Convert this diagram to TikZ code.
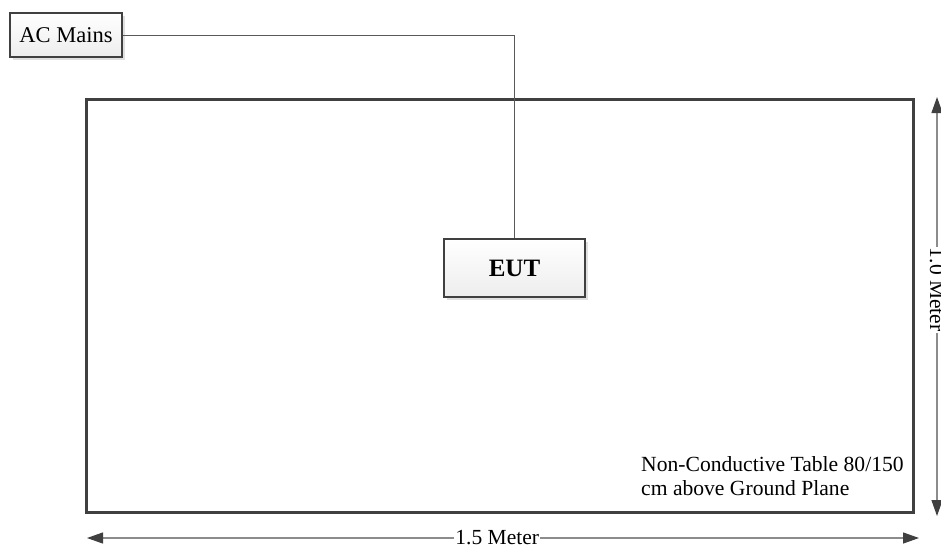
\documentclass[tikz,border=0pt]{standalone}
\usepackage{fontspec}
\setmainfont{Liberation Serif}
\usetikzlibrary{arrows.meta,positioning,shadows}
\definecolor{darkframe}{rgb}{0.25,0.25,0.25}
\definecolor{wiregray}{rgb}{0.35,0.35,0.35}
\definecolor{dimgray}{rgb}{0.55,0.55,0.55}
\tikzset{
  unit/.style={
    draw=darkframe,
    line width=1.6pt,
    top color=white,
    bottom color=black!7,
    drop shadow={shadow xshift=3pt,shadow yshift=-3pt,fill=black!12,opacity=1},
    align=center,
    inner sep=0pt
  },
  table/.style={
    draw=darkframe,
    line width=3pt,
    inner sep=0pt
  },
  wire/.style={
    wiregray,
    line width=1pt
  },
  dimarrow/.style={
    {Triangle[length=16pt,width=11pt,color=darkframe]}-{Triangle[length=16pt,width=11pt,color=darkframe]},
    dimgray,
    line width=1.2pt
  },
  dimlabel/.style={
    fill=white,
    text=black,
    inner xsep=1pt,
    inner ysep=2pt,
    font=\fontsize{21.5}{24}\selectfont
  }
}

\begin{document}
\begin{tikzpicture}[x=1pt,y=-1pt]
\clip (0,0) rectangle (941,552);
\fill[white] (0,0) rectangle (941,552);
\node[table,minimum width=827pt,minimum height=413pt] (desk) at (499.5,305.5) {};
\node[unit,minimum width=112pt,minimum height=44pt,font=\fontsize{22.5}{24}\selectfont] (mains) at (66,35) {AC Mains};
\node[unit,minimum width=141pt,minimum height=58pt,font=\fontsize{25}{28}\selectfont\bfseries] (eut) at (514.5,268) {EUT};
\node[anchor=west,align=left,inner sep=0pt,font=\fontsize{21.6}{24}\selectfont] (note) at (641,476) {Non-Conductive Table 80/150\\cm above Ground Plane};
\draw[wire] (mains.east) -| (eut.north);
% dimensions
\coordinate (bl) at (87,538);
\coordinate (br) at (919,538);
\coordinate (rt) at (937,97);
\coordinate (rb) at (937,516);
\draw[dimarrow] (bl) -- (br) node[dimlabel,pos=0.493] (width) {1.5 Meter};
\draw[dimarrow] (rt) -- (rb) node[dimlabel,pos=0.46,rotate=-90] (depth) {1.0 Meter};
\end{tikzpicture}
\end{document}
